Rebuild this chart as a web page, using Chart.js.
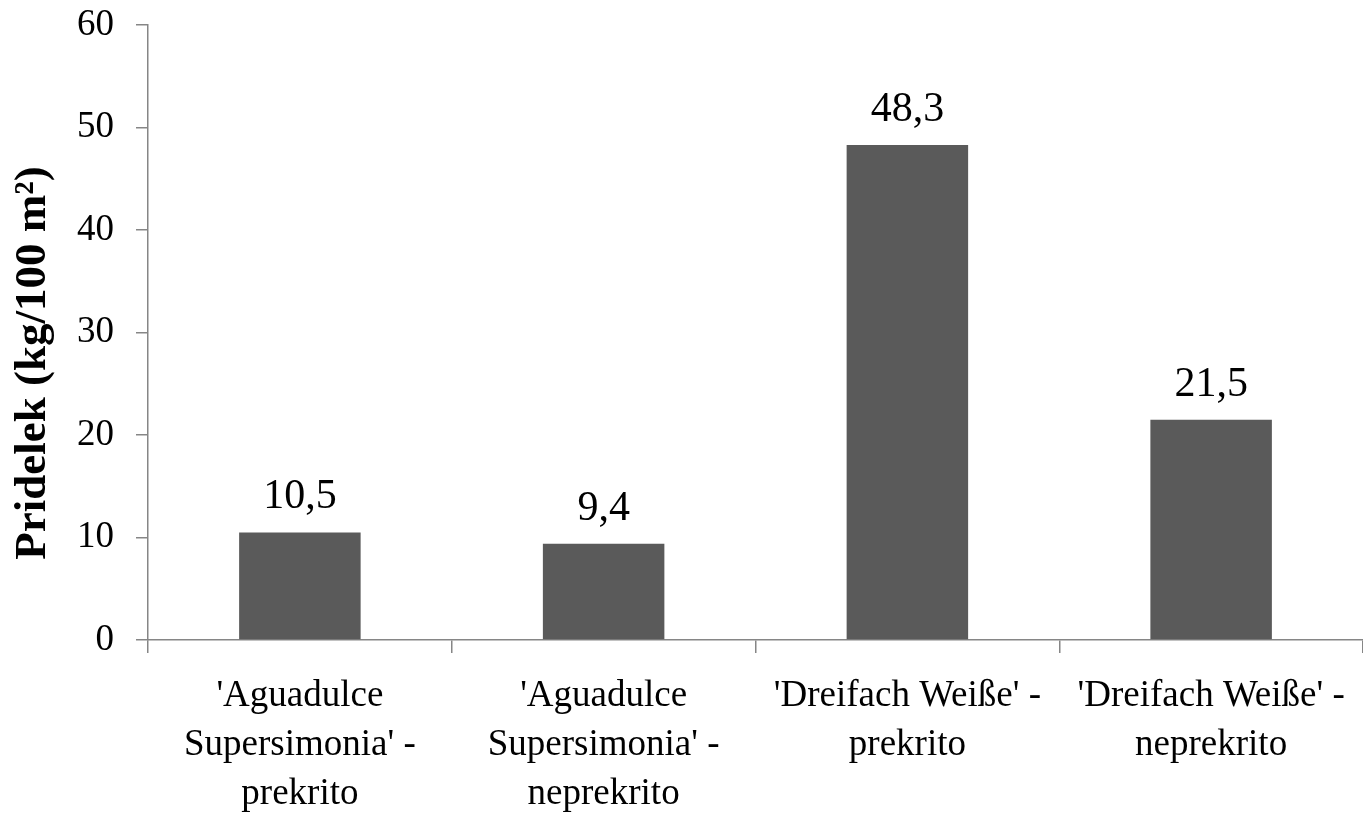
<!DOCTYPE html>
<html>
<head>
<meta charset="utf-8">
<script src="https://cdn.jsdelivr.net/npm/chart.js@4.4.1/dist/chart.umd.min.js"></script>
<style>
  html, body { margin: 0; padding: 0; background: #ffffff; }
  #wrap { width: 1363px; height: 818px; }
</style>
</head>
<body>
<div id="wrap"><canvas id="c" width="1363" height="818"></canvas></div>
<script>
// Yield per treatment (kg/100 m²)
const categories = [
  ["'Aguadulce", "Supersimonia' -", "prekrito"],
  ["'Aguadulce", "Supersimonia' -", "neprekrito"],
  ["'Dreifach Weiße' -", "prekrito"],
  ["'Dreifach Weiße' -", "neprekrito"]
];
const yieldValues = [10.5, 9.4, 48.3, 21.5];
const yTicks = [0, 10, 20, 30, 40, 50, 60];
const yTitle = "Pridelek (kg/100 m²)";

const SERIF = "'Liberation Serif', 'Times New Roman', serif";
const AXIS_GREY = '#868686';

// Value labels above each bar, written with a decimal comma
const valueLabels = {
  id: 'valueLabels',
  afterDatasetsDraw(chart) {
    const ctx = chart.ctx;
    const meta = chart.getDatasetMeta(0);
    ctx.save();
    ctx.font = '42px ' + SERIF;
    ctx.fillStyle = '#000';
    ctx.textAlign = 'center';
    ctx.textBaseline = 'alphabetic';
    meta.data.forEach((bar, i) => {
      const txt = yieldValues[i].toFixed(1).replace('.', ',');
      ctx.fillText(txt, bar.x, bar.y - 24);
    });
    ctx.restore();
  }
};

// Rotated, bold y-axis title
const yAxisTitle = {
  id: 'yAxisTitle',
  afterDraw(chart) {
    const ctx = chart.ctx;
    ctx.save();
    ctx.translate(33, 363);
    ctx.rotate(-Math.PI / 2);
    ctx.font = 'bold 45px ' + SERIF;
    ctx.fillStyle = '#000';
    ctx.textAlign = 'center';
    ctx.textBaseline = 'middle';
    ctx.fillText(yTitle, 0, 0);
    ctx.restore();
  }
};

new Chart(document.getElementById('c'), {
  type: 'bar',
  data: {
    labels: categories,
    datasets: [{
      data: yieldValues,
      backgroundColor: '#5a5a5a',
      borderWidth: 0,
      categoryPercentage: 1.0,
      barPercentage: 0.4
    }]
  },
  options: {
    responsive: false,
    animation: false,
    layout: { padding: { top: 25, left: 0, right: 0, bottom: 0 } },
    plugins: {
      legend: { display: false },
      tooltip: { enabled: false }
    },
    scales: {
      x: {
        offset: true,
        afterFit(scale) {
          scale.height = 178;
          scale.paddingLeft = 0;
          scale.paddingRight = 0;
        },
        grid: {
          offset: true,
          drawOnChartArea: false,
          drawTicks: true,
          tickLength: 13,
          color: AXIS_GREY,
          lineWidth: 1.5
        },
        border: { display: true, color: AXIS_GREY, width: 1.5 },
        ticks: {
          maxRotation: 0,
          minRotation: 0,
          autoSkip: false,
          padding: 19,
          color: '#000',
          font: { family: SERIF, size: 37, lineHeight: 1.32 }
        }
      },
      y: {
        min: 0,
        max: 60,
        afterFit(scale) {
          scale.width = 148;
          scale.paddingTop = 0;
          scale.paddingBottom = 0;
        },
        afterBuildTicks(scale) { scale.ticks = yTicks.map(v => ({ value: v })); },
        grid: {
          drawOnChartArea: false,
          drawTicks: true,
          tickLength: 12,
          color: AXIS_GREY,
          lineWidth: 1.5
        },
        border: { display: true, color: AXIS_GREY, width: 1.5 },
        ticks: {
          padding: 22,
          color: '#000',
          font: { family: SERIF, size: 37 },
          callback: (v) => String(v)
        }
      }
    }
  },
  plugins: [valueLabels, yAxisTitle]
});
</script>
</body>
</html>
